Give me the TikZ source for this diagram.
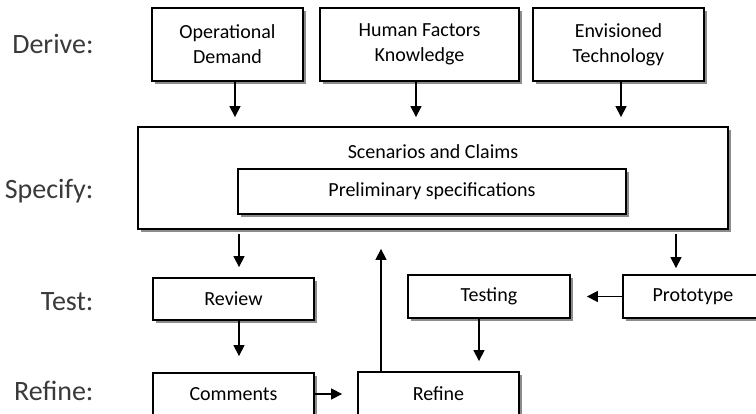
\documentclass[tikz,border=0pt]{standalone}
\usepackage{fontspec}
\setmainfont{Carlito}
\usetikzlibrary{shadows,arrows.meta}
\definecolor{lbl}{HTML}{3A3A3A}
\tikzset{
  box/.style={draw=black, line width=1.8pt, fill=white, inner sep=0pt,
    font=\fontsize{20}{25}\selectfont, align=center,
    drop shadow={shadow xshift=3pt, shadow yshift=-3pt, fill=black!45, opacity=1}},
  arr/.style={line width=1.3pt, -{Triangle[width=11pt,length=11pt]}},
  lab/.style={anchor=base east, text=lbl, font=\fontsize{28}{32}\selectfont}
}
\begin{document}
\begin{tikzpicture}[x=1pt,y=-1pt]
\useasboundingbox (0,0) rectangle (756,414);
\clip (0,0) rectangle (756,414);
\fill[white] (0,0) rectangle (756,414);
% labels
\node[lab] (lderive) at (97,54) {Derive:};
\node[lab] (lspecify) at (97,199) {Specify:};
\node[lab] (ltest) at (97,311) {Test:};
\node[lab] (lrefine) at (97,401) {Refine:};
% top boxes
\node[box, minimum width=151pt, minimum height=73pt] (od) at (227.5,44.5) {Operational\\Demand};
\node[box, minimum width=199pt, minimum height=73pt] (hf) at (419.5,44.5) {Human Factors\\Knowledge};
\node[box, minimum width=171pt, minimum height=73pt] (et) at (618.5,44.5) {Envisioned\\Technology};
% big box
\node[box, minimum width=590pt, minimum height=102pt] (big) at (433,178) {};
\node[font=\fontsize{20}{25}\selectfont] (sc) at (433,152) {Scenarios and Claims};
\node[box, minimum width=388pt, minimum height=45pt] (pre) at (432,191.5) {Preliminary specifications};
% lower boxes
\node[box, minimum width=161pt, minimum height=42pt] (rev) at (233.5,299) {Review};
\node[box, minimum width=162pt, minimum height=43pt] (tst) at (489,296.5) {Testing};
\node[box, minimum width=140pt, minimum height=43pt] (pro) at (693,296.5) {Prototype};
\node[box, minimum width=161pt, minimum height=42pt] (com) at (233.5,394) {Comments};
\node[box, minimum width=161pt, minimum height=44pt] (ref) at (438.5,394) {Refine};
% arrows
\draw[arr, shorten >=9pt] ([xshift=7.5pt]od.south) -- ([xshift=7.5pt]od.south |- big.north);
\draw[arr, shorten >=9pt] ([xshift=-3.5pt]hf.south) -- ([xshift=-3.5pt]hf.south |- big.north);
\draw[arr, shorten >=9pt] ([xshift=2.5pt]et.south) -- ([xshift=2.5pt]et.south |- big.north);
\draw[arr, shorten <=4pt, shorten >=10pt] ([xshift=5.5pt]rev.north |- big.south) -- ([xshift=5.5pt]rev.north);
\draw[arr, shorten <=4pt, shorten >=6pt] ([xshift=-17pt]pro.north |- big.south) -- ([xshift=-17pt]pro.north);
\draw[arr, shorten >=16pt] ([xshift=5.5pt]rev.south) -- ([xshift=5.5pt]rev.south |- com.north);
\draw[arr, shorten >=15pt] (com.east) -- (ref.west);
\draw[arr, shorten >=16pt] (pro.west) -- (pro.west -| tst.east);
\draw[arr, shorten >=10pt] ([xshift=-10pt]tst.south) -- ([xshift=-10pt]tst.south |- ref.north);
\draw[arr, shorten >=19pt] ([xshift=-57.5pt]ref.north) -- ([xshift=-57.5pt]ref.north |- big.south);
\end{tikzpicture}
\end{document}
